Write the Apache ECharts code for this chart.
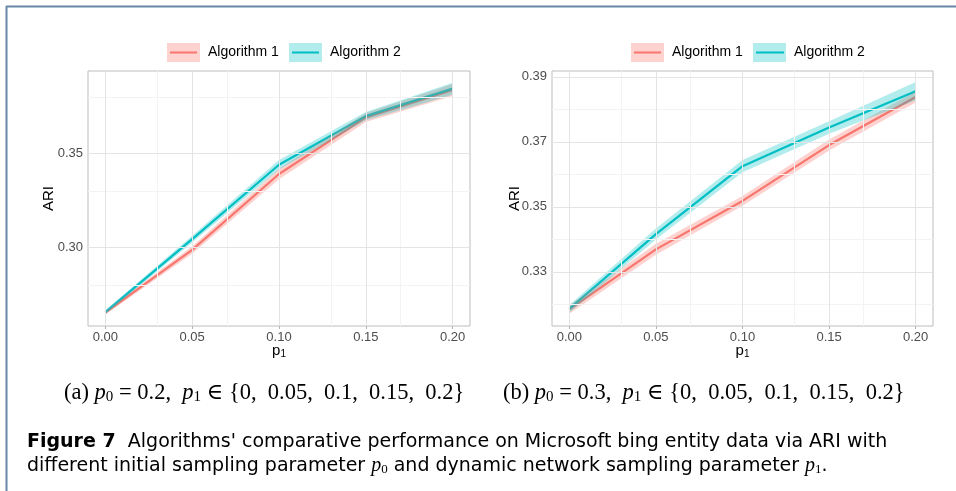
<!DOCTYPE html>
<html>
<head>
<meta charset="utf-8">
<script src="https://cdn.jsdelivr.net/npm/echarts@6/dist/echarts.min.js"></script>
<style>
  html, body { margin: 0; padding: 0; background: #fff; }
  #chart { width: 956px; height: 491px; }
</style>
</head>
<body>
<div id="chart"></div>
<script>
// p1 values shared by both panels
const p1Values = [0, 0.05, 0.10, 0.15, 0.20];
const p1Ticks = [0, 0.05, 0.10, 0.15, 0.20];
const p1Minor = [0.025, 0.075, 0.125, 0.175];

// Panel (a): p0 = 0.2
const a1Mean = [0.2652, 0.2986, 0.3390, 0.3691, 0.3837];
const a1Low  = [0.2642, 0.2966, 0.3362, 0.3667, 0.3805];
const a1High = [0.2662, 0.3006, 0.3418, 0.3715, 0.3869];
const a2Mean = [0.2655, 0.3043, 0.3439, 0.3698, 0.3844];
const a2Low  = [0.2645, 0.3025, 0.3414, 0.3676, 0.3812];
const a2High = [0.2665, 0.3061, 0.3464, 0.3720, 0.3876];
const aTicks = [0.30, 0.35];
const aMinor = [0.275, 0.325, 0.375];

// Panel (b): p0 = 0.3
const b1Mean = [0.3184, 0.3369, 0.3518, 0.3690, 0.3838];
const b1Low  = [0.3171, 0.3352, 0.3503, 0.3673, 0.3821];
const b1High = [0.3197, 0.3386, 0.3533, 0.3707, 0.3855];
const b2Mean = [0.3186, 0.3416, 0.3625, 0.3744, 0.3856];
const b2Low  = [0.3174, 0.3399, 0.3606, 0.3725, 0.3828];
const b2High = [0.3198, 0.3433, 0.3644, 0.3763, 0.3884];
const bTicks = [0.33, 0.35, 0.37, 0.39];
const bMinor = [0.32, 0.34, 0.36, 0.38];

const RED = '#F8766D';
const TEAL = '#00BFC4';
const RED_FILL = 'rgba(248,118,109,0.33)';
const TEAL_FILL = 'rgba(0,191,196,0.3)';
const SANS = "'Liberation Sans', Arial, Helvetica, sans-serif";
const SERIF = "'Liberation Serif', 'DejaVu Serif', serif";
const CAP_SANS = "'DejaVu Sans', 'Liberation Sans', sans-serif";

const chart = echarts.init(document.getElementById('chart'), null, { renderer: 'canvas' });

function bandSeries(name, gridIdx, low, high, fill) {
  return {
    type: 'custom',
    name: name,
    xAxisIndex: gridIdx,
    yAxisIndex: gridIdx,
    z: 3,
    silent: true,
    animation: false,
    itemStyle: { color: fill },
    data: p1Values.map((x, i) => [x, low[i], high[i]]),
    renderItem: function (params, api) {
      if (params.dataIndex !== 0) return null;
      const pts = [];
      for (let i = 0; i < p1Values.length; i++) pts.push(api.coord([p1Values[i], high[i]]));
      for (let i = p1Values.length - 1; i >= 0; i--) pts.push(api.coord([p1Values[i], low[i]]));
      return { type: 'polygon', shape: { points: pts }, style: { fill: fill } };
    }
  };
}

function lineSeries(name, gridIdx, mean, color) {
  return {
    type: 'line',
    name: name,
    xAxisIndex: gridIdx,
    yAxisIndex: gridIdx,
    z: 2,
    symbol: 'none',
    animation: false,
    lineStyle: { color: color, width: 2.2 },
    itemStyle: { color: color },
    data: p1Values.map((x, i) => [x, mean[i]])
  };
}

// Background grid lines drawn as mark lines through the axes' own scales
function gridLineSeries(gridIdx, xMajor, xMinor, yMajor, yMinor) {
  const major = { color: '#e4e4e4', width: 1, type: 'solid' };
  const minor = { color: '#f3f3f3', width: 1, type: 'solid' };
  const mk = (v, key, style) => ({ [key]: v, lineStyle: style });
  return {
    type: 'line',
    xAxisIndex: gridIdx,
    yAxisIndex: gridIdx,
    z: 0,
    silent: true,
    animation: false,
    symbol: 'none',
    data: [],
    markLine: {
      silent: true,
      animation: false,
      symbol: 'none',
      label: { show: false },
      data: [].concat(
        xMinor.map(v => mk(v, 'xAxis', minor)),
        yMinor.map(v => mk(v, 'yAxis', minor)),
        xMajor.map(v => mk(v, 'xAxis', major)),
        yMajor.map(v => mk(v, 'yAxis', major))
      )
    }
  };
}

function xAxis(gridIdx) {
  return {
    type: 'value',
    gridIndex: gridIdx,
    min: -0.01,
    max: 0.21,
    name: '{p|p}{s|1}',
    nameLocation: 'middle',
    nameGap: 17,
    nameMoveOverlap: false,
    nameTextStyle: {
      rich: {
        p: { fontFamily: SANS, fontSize: 15, color: '#000' },
        s: { fontFamily: SANS, fontSize: 10, color: '#000', verticalAlign: 'bottom', padding: [6, 0, 0, 0] }
      }
    },
    axisLine: { show: false },
    axisTick: { show: true, length: 3, customValues: p1Ticks, lineStyle: { color: '#b3b3b3' } },
    axisLabel: {
      customValues: p1Ticks,
      margin: 5,
      fontFamily: SANS, fontSize: 13, color: '#4d4d4d',
      formatter: v => v.toFixed(2)
    },
    splitLine: { show: false }
  };
}

function yAxis(gridIdx, min, max, ticks, gap) {
  return {
    type: 'value',
    gridIndex: gridIdx,
    min: min,
    max: max,
    name: 'ARI',
    nameLocation: 'middle',
    nameRotate: 90,
    nameGap: gap,
    nameMoveOverlap: false,
    nameTextStyle: { fontFamily: SANS, fontSize: 15, color: '#000' },
    axisLine: { show: false },
    axisTick: { show: true, length: 3, customValues: ticks, lineStyle: { color: '#b3b3b3' } },
    axisLabel: {
      customValues: ticks,
      margin: 5,
      fontFamily: SANS, fontSize: 13, color: '#4d4d4d',
      formatter: v => v.toFixed(2)
    },
    splitLine: { show: false }
  };
}

function legendItem(name, left, fill) {
  return {
    left: left,
    top: 43,
    padding: 0,
    itemWidth: 33,
    itemHeight: 19,
    selectedMode: false,
    data: [{ name: name, icon: 'rect', itemStyle: { color: fill, borderWidth: 0 } }],
    textStyle: { fontFamily: SANS, fontSize: 14, color: '#000', padding: [0, 0, 0, 3] }
  };
}

function keyLine(x1, x2, color) {
  return {
    type: 'line', z: 100, silent: true,
    shape: { x1: x1, y1: 52.5, x2: x2, y2: 52.5 },
    style: { stroke: color, lineWidth: 2 }
  };
}

const capRich = {
  i: { fontFamily: SERIF, fontSize: 22.5, fontStyle: 'italic', color: '#000' },
  s: { fontFamily: SERIF, fontSize: 15, color: '#000', verticalAlign: 'bottom', padding: [9, 0, 0, 0] }
};
const figRich = {
  b: { fontFamily: CAP_SANS, fontSize: 19, fontWeight: 'bold', color: '#000' },
  i: { fontFamily: SERIF, fontSize: 20, fontStyle: 'italic', color: '#000' },
  s: { fontFamily: SERIF, fontSize: 13, color: '#000', verticalAlign: 'bottom', padding: [7, 0, 0, 0] }
};

function subCaption(x, text) {
  return {
    type: 'text', silent: true, x: x, y: 393,
    style: {
      text: text, rich: capRich,
      fontFamily: SERIF, fontSize: 22.5, fill: '#000', verticalAlign: 'middle'
    }
  };
}

function captionLine(y, text) {
  return {
    type: 'text', silent: true, x: 27, y: y,
    style: {
      text: text, rich: figRich,
      fontFamily: CAP_SANS, fontSize: 19, fill: '#000', verticalAlign: 'middle'
    }
  };
}

const option = {
  backgroundColor: '#fff',
  animation: false,
  grid: [
    { left: 88, top: 71, width: 382, height: 255, show: true, borderColor: '#bdbdbd', borderWidth: 1, backgroundColor: 'transparent' },
    { left: 552, top: 71, width: 381, height: 255, show: true, borderColor: '#bdbdbd', borderWidth: 1, backgroundColor: 'transparent' }
  ],
  xAxis: [xAxis(0), xAxis(1)],
  yAxis: [
    yAxis(0, 0.2581, 0.3938, aTicks, 32),
    yAxis(1, 0.3133, 0.3918, bTicks, 30)
  ],
  legend: [
    legendItem('Algorithm 1', 167, RED_FILL),
    legendItem('Algorithm 2', 289, TEAL_FILL),
    legendItem('Algorithm 1', 631, RED_FILL),
    legendItem('Algorithm 2', 753, TEAL_FILL)
  ],
  series: [
    bandSeries('Algorithm 1', 0, a1Low, a1High, RED_FILL),
    bandSeries('Algorithm 2', 0, a2Low, a2High, TEAL_FILL),
    bandSeries('Algorithm 1', 1, b1Low, b1High, RED_FILL),
    bandSeries('Algorithm 2', 1, b2Low, b2High, TEAL_FILL),
    lineSeries('Algorithm 1', 0, a1Mean, RED),
    lineSeries('Algorithm 2', 0, a2Mean, TEAL),
    lineSeries('Algorithm 1', 1, b1Mean, RED),
    lineSeries('Algorithm 2', 1, b2Mean, TEAL),
    gridLineSeries(0, p1Ticks, p1Minor, aTicks, aMinor),
    gridLineSeries(1, p1Ticks, p1Minor, bTicks, bMinor)
  ],
  graphic: [
    // page frame
    { type: 'line', silent: true, shape: { x1: 6, y1: 6.5, x2: 956, y2: 6.5 }, style: { stroke: '#6b88a8', lineWidth: 2 } },
    { type: 'line', silent: true, shape: { x1: 6.5, y1: 6, x2: 6.5, y2: 491 }, style: { stroke: '#6b88a8', lineWidth: 2 } },
    // legend key strokes
    keyLine(170, 197, RED),
    keyLine(292, 319, TEAL),
    keyLine(634, 661, RED),
    keyLine(756, 784, TEAL),
    // sub-captions
    subCaption(64, '(a) {i|p}{s|0} = 0.2,  {i|p}{s|1} ∈ {0,  0.05,  0.1,  0.15,  0.2}'),
    subCaption(503, '(b) {i|p}{s|0} = 0.3,  {i|p}{s|1} ∈ {0,  0.05,  0.1,  0.15,  0.2}'),
    // figure caption
    captionLine(442, "{b|Figure 7}  Algorithms' comparative performance on Microsoft bing entity data via ARI with"),
    captionLine(466, 'different initial sampling parameter {i|p}{s|0} and dynamic network sampling parameter {i|p}{s|1}.')
  ]
};

chart.setOption(option);
</script>
</body>
</html>
